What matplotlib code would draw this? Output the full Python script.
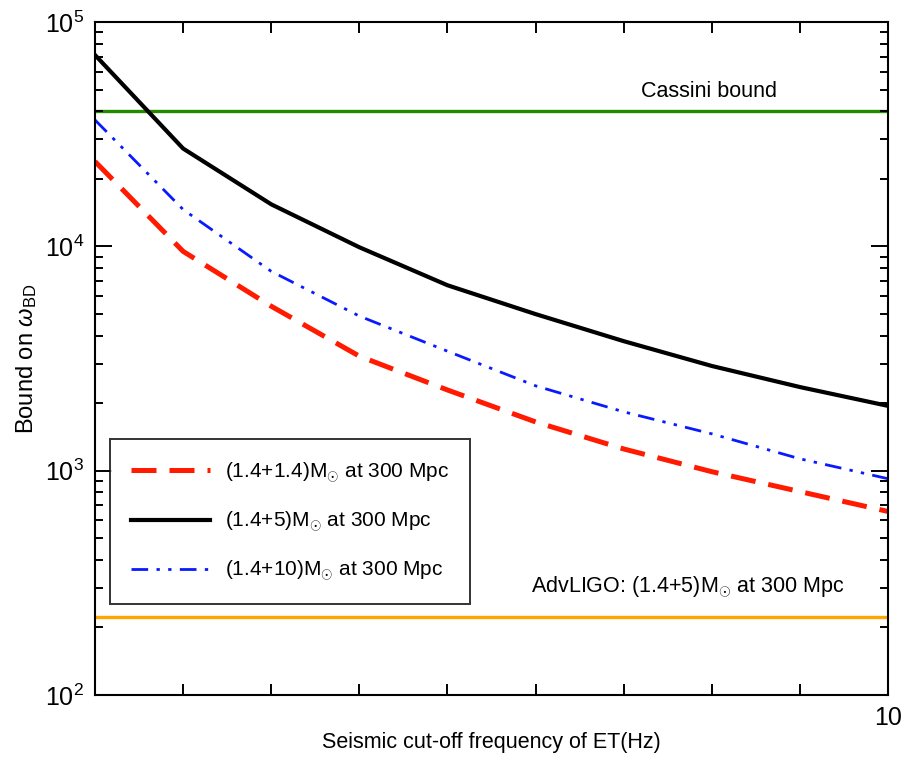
import numpy as np
import matplotlib.pyplot as plt

plt.rcParams['font.family'] = ['Liberation Sans', 'DejaVu Sans']
plt.rcParams['mathtext.fontset'] = 'custom'
plt.rcParams['mathtext.rm'] = 'Liberation Sans'
plt.rcParams['mathtext.it'] = 'Liberation Sans:italic'

# seismic cut-off frequency (Hz)
freq = np.arange(1, 11)

# bound on omega_BD for each binary at 300 Mpc
bound_14_14 = [23900, 9500, 5410, 3240, 2290, 1650, 1250, 990, 807, 658]
bound_14_5 = [71300, 27300, 15400, 9910, 6710, 4990, 3780, 2930, 2360, 1945]
bound_14_10 = [36600, 14600, 7740, 4890, 3410, 2390, 1830, 1460, 1130, 921]

cassini = 40000
advligo = 222

fig = plt.figure(figsize=(9.11, 7.61), dpi=100)
ax = fig.add_axes([0.1043, 0.0867, 0.8705, 0.8843])

ax.axhline(cassini, color='#238a00', lw=2.4, zorder=1)
ax.axhline(advligo, color='#ffa500', lw=2.4, zorder=1)

ax.plot(freq, bound_14_14, color='#ff1a00', lw=3.6, dashes=(5, 2.6),
        label=r'(1.4+1.4)M$_{\odot}$ at 300 Mpc')
ax.plot(freq, bound_14_5, color='black', lw=3.0,
        label=r'(1.4+5)M$_{\odot}$ at 300 Mpc')
ax.plot(freq, bound_14_10, color='#0a1aff', lw=2.0,
        dashes=(6, 3, 1.2, 3, 1.2, 3),
        label=r'(1.4+10)M$_{\odot}$ at 300 Mpc')

ax.text(7.97, cassini * 1.1, 'Cassini bound', fontsize=15.5, ha='center', va='bottom')
ax.text(7.73, advligo * 1.2, r'AdvLIGO: (1.4+5)M$_{\odot}$ at 300 Mpc',
        fontsize=15.5, ha='center', va='bottom')

ax.set_yscale('log')
ax.set_xlim(1, 10)
ax.set_ylim(1e2, 1e5)

ax.set_xticks(range(2, 11))
ax.set_xticklabels([''] * 8 + ['10'])

ax.tick_params(which='both', direction='in', top=True, right=True, width=1.4,
               labelsize=18)
ax.tick_params(axis='x', length=8, pad=8)
ax.tick_params(axis='y', which='major', length=12, pad=8)
ax.tick_params(axis='y', which='minor', length=6)
for s in ax.spines.values():
    s.set_linewidth(1.5)

ax.set_xlabel('Seismic cut-off frequency of ET(Hz)', fontsize=15.5, labelpad=1)
ax.set_ylabel(r'Bound on $\omega_{\rm BD}$', fontsize=17, labelpad=4)

leg = ax.legend(loc='lower left', bbox_to_anchor=(0.019, 0.135), fontsize=15,
                frameon=True, fancybox=False, edgecolor='black',
                handlelength=3.8, handletextpad=0.7, borderpad=1.0,
                labelspacing=1.2, borderaxespad=0)
leg.get_frame().set_linewidth(1.4)

fig.savefig('out.png', dpi=100)
